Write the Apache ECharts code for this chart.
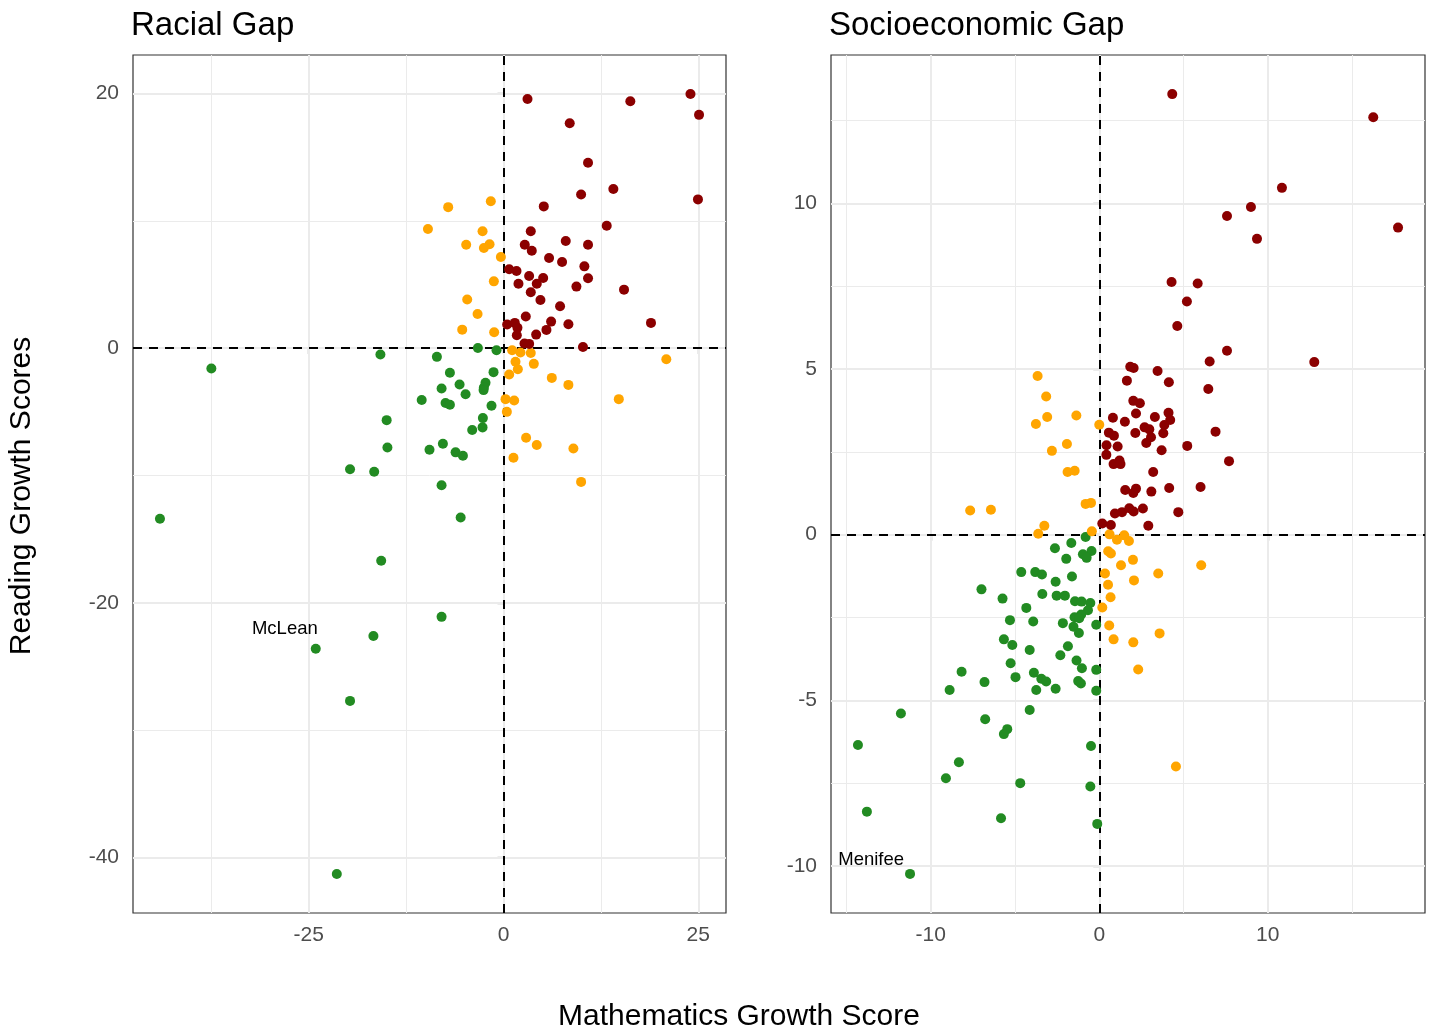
<!DOCTYPE html>
<html>
<head>
<meta charset="utf-8">
<title>Growth gaps</title>
<script src="https://cdn.jsdelivr.net/npm/echarts@6/dist/echarts.min.js"></script>
<style>
  html, body { margin: 0; padding: 0; background: #fff; }
  #chart { width: 1432px; height: 1029px; }
</style>
</head>
<body>
<div id="chart"></div>
<script type="text/javascript">
// ---- data: [math growth, reading growth, label] ----
var racialRed = [[3.08,19.58],[16.28,19.4],[24.0,19.97],[25.1,18.33],[8.5,17.67],[10.85,14.56],[14.1,12.5],[9.96,12.08],[24.96,11.69],[5.17,11.14],[13.25,9.62],[3.5,9.18],[7.99,8.42],[10.85,8.13],[2.73,8.13],[3.63,7.66],[5.85,7.08],[7.52,6.77],[10.38,6.43],[0.73,6.2],[1.67,6.06],[3.29,5.67],[5.09,5.51],[10.85,5.49],[1.92,5.07],[4.27,5.07],[9.36,4.84],[15.47,4.6],[3.5,4.39],[4.74,3.79],[7.26,3.29],[2.86,2.49],[6.11,2.09],[18.93,1.99],[8.33,1.88],[5.51,1.44],[0.47,1.86],[1.45,1.99],[1.79,1.6],[1.71,1.02],[4.19,1.07],[2.69,0.37],[3.29,0.34],[10.2,0.1]];
var racialOrange = [[-1.63,11.55],[-7.1,11.08],[-9.7,9.36],[-2.69,9.18],[-4.79,8.13],[-1.79,8.16],[-2.52,7.87],[-0.34,7.16],[-1.24,5.25],[-4.66,3.82],[-3.33,2.69],[-5.3,1.46],[-1.2,1.25],[1.11,-0.16],[2.18,-0.34],[3.5,-0.37],[1.54,-1.07],[3.89,-1.23],[1.84,-1.65],[0.73,-2.07],[6.2,-2.33],[8.33,-2.88],[20.9,-0.86],[0.26,-4.0],[1.37,-4.1],[14.8,-4.0],[0.43,-5.0],[2.9,-7.03],[4.27,-7.6],[8.97,-7.87],[1.28,-8.6],[9.96,-10.5]];
var racialGreen = [[-15.8,-0.5],[-37.5,-1.6],[-10.5,-4.07],[-15.0,-5.65],[-14.9,-7.8],[-9.5,-7.98],[-19.7,-9.5],[-16.6,-9.7],[-44.1,-13.4],[-15.7,-16.7],[-16.7,-22.6],[-24.1,-23.6,'McLean'],[-19.7,-27.7],[-21.4,-41.3],[-8.55,-0.68],[-3.29,0.02],[-0.9,-0.16],[-6.88,-1.93],[-1.28,-1.88],[-5.64,-2.85],[-2.31,-2.72],[-2.52,-3.08],[-2.56,-3.29],[-7.95,-3.16],[-4.87,-3.61],[-7.44,-4.31],[-6.88,-4.44],[-1.54,-4.52],[-2.65,-5.49],[-2.69,-6.22],[-4.02,-6.43],[-7.78,-7.5],[-6.15,-8.18],[-5.21,-8.45],[-7.95,-10.77],[-5.5,-13.3],[-7.95,-21.1]];

var sesRed = [[4.33,13.3],[16.26,12.6],[10.84,10.47],[9.0,9.89],[7.58,9.62],[17.73,9.27],[9.36,8.93],[4.29,7.63],[5.84,7.58],[5.2,7.04],[4.63,6.3],[12.76,5.21],[7.58,5.55],[6.55,5.23],[1.84,5.07],[2.04,5.03],[3.46,4.94],[1.64,4.65],[4.13,4.6],[6.47,4.4],[2.02,4.04],[2.41,3.97],[2.18,3.66],[4.11,3.68],[4.21,3.46],[3.3,3.55],[0.81,3.53],[1.52,3.41],[3.86,3.31],[2.69,3.24],[2.97,3.18],[0.57,3.08],[0.87,2.99],[2.14,3.07],[3.8,3.06],[3.07,2.94],[2.79,2.77],[0.43,2.7],[1.09,2.66],[3.7,2.55],[5.22,2.68],[6.9,3.11],[0.42,2.41],[0.85,2.13],[1.2,2.24],[1.26,2.13],[7.7,2.22],[3.2,1.89],[1.54,1.35],[2.18,1.39],[2.02,1.26],[3.09,1.3],[4.15,1.41],[6.01,1.44],[0.93,0.64],[1.35,0.68],[1.78,0.8],[2.04,0.7],[2.59,0.79],[4.69,0.68],[0.18,0.34],[0.69,0.29],[2.91,0.27]];
var sesOrange = [[-3.66,4.79],[-3.15,4.17],[-3.09,3.55],[-1.36,3.6],[-3.76,3.34],[0,3.32],[-1.92,2.74],[-2.81,2.53],[-1.88,1.89],[-1.46,1.93],[-7.66,0.73],[-6.43,0.75],[-0.81,0.93],[-0.49,0.96],[-3.26,0.27],[-3.62,0.03],[-0.44,0.1],[0.18,-2.2],[0.59,-2.74],[0.85,-3.16],[0.61,0.01],[1.05,-0.15],[1.48,-0.02],[1.76,-0.19],[0.53,-0.5],[0.69,-0.57],[2.0,-0.76],[1.29,-0.92],[6.05,-0.92],[0.34,-1.17],[3.5,-1.17],[2.06,-1.38],[0.52,-1.51],[0.67,-1.89],[3.58,-2.98],[2.02,-3.25],[2.31,-4.07],[4.55,-7.0]];
var sesGreen = [[-0.81,-0.07],[-1.66,-0.25],[-2.63,-0.41],[-0.46,-0.49],[-0.97,-0.59],[-0.75,-0.7],[-1.96,-0.73],[-4.63,-1.13],[-3.8,-1.13],[-3.4,-1.2],[-1.62,-1.26],[-2.59,-1.42],[-6.99,-1.65],[-5.74,-1.93],[-3.38,-1.79],[-2.53,-1.84],[-2.04,-1.84],[-1.44,-2.01],[-1.05,-2.02],[-0.53,-2.06],[-0.67,-2.28],[-1.07,-2.41],[-1.47,-2.49],[-1.19,-2.52],[-4.33,-2.21],[-5.3,-2.58],[-3.92,-2.62],[-2.16,-2.67],[-0.18,-2.72],[-1.53,-2.78],[-1.21,-2.97],[-5.66,-3.16],[-5.16,-3.33],[-4.13,-3.48],[-1.86,-3.37],[-2.31,-3.64],[-5.26,-3.88],[-1.35,-3.8],[-1.03,-4.03],[-0.18,-4.08],[-8.17,-4.14],[-4.97,-4.3],[-3.88,-4.17],[-3.44,-4.35],[-3.15,-4.43],[-6.81,-4.45],[-1.25,-4.42],[-1.09,-4.49],[-2.59,-4.65],[-3.74,-4.69],[-0.18,-4.71],[-4.13,-5.29],[-6.77,-5.57],[-8.88,-4.69],[-11.77,-5.4],[-5.46,-5.87],[-5.66,-6.02],[-14.32,-6.35],[-0.49,-6.38],[-8.33,-6.87],[-9.1,-7.35],[-4.69,-7.5],[-0.53,-7.6],[-13.79,-8.36],[-5.83,-8.56],[-0.12,-8.73],[-11.23,-10.24,'Menifee']];

// axis breaks
var racialXTicks = [-25, 0, 25];
var racialXMinor = [-37.5, -12.5, 12.5];
var racialYTicks = [-40, -20, 0, 20];
var racialYMinor = [-30, -10, 10];
var sesXTicks = [-10, 0, 10];
var sesXMinor = [-15, -5, 5, 15];
var sesYTicks = [-10, -5, 0, 5, 10];
var sesYMinor = [-7.5, -2.5, 2.5, 7.5, 12.5];

var FONT = '"Liberation Sans", Arial, sans-serif';
var RED = '#8B0000', ORANGE = '#FFA500', GREEN = '#228B22';

// where the text labels sit next to their point (px)
var labelPlace = { McLean: [7, -15], Menifee: [-1, -9] };

function toItems(arr) {
  return arr.map(function (d) {
    if (!d[2]) return [d[0], d[1]];
    return {
      value: [d[0], d[1]],
      label: {
        show: true, formatter: d[2], position: labelPlace[d[2]],
        align: 'right', verticalAlign: 'middle',
        color: '#000', fontSize: 18.5, fontFamily: FONT
      }
    };
  });
}

function xAxisOf(g, min, max, ticks) {
  return {
    type: 'value', gridIndex: g, min: min, max: max,
    axisLine: { show: false },
    axisTick: { show: true, length: 6, customValues: ticks, lineStyle: { color: '#333', width: 1.2 } },
    axisLabel: { customValues: ticks, color: '#4d4d4d', fontSize: 21, fontFamily: FONT, margin: 12 },
    splitLine: { show: false }
  };
}
function yAxisOf(g, min, max, ticks) {
  return {
    type: 'value', gridIndex: g, min: min, max: max,
    axisLine: { show: false },
    axisTick: { show: true, length: 6, customValues: ticks, lineStyle: { color: '#333', width: 1.2 } },
    axisLabel: { customValues: ticks, color: '#4d4d4d', fontSize: 21, fontFamily: FONT, margin: 14 },
    splitLine: { show: false }
  };
}

// background grid + dashed zero lines, as markLines on an empty series
function gridSeries(g, xMaj, xMin, yMaj, yMin) {
  var data = [];
  xMin.forEach(function (v) { data.push({ xAxis: v, lineStyle: { color: '#ebebeb', width: 1, type: 'solid' } }); });
  yMin.forEach(function (v) { data.push({ yAxis: v, lineStyle: { color: '#ebebeb', width: 1, type: 'solid' } }); });
  xMaj.forEach(function (v) { data.push({ xAxis: v, lineStyle: { color: '#ebebeb', width: 2, type: 'solid' } }); });
  yMaj.forEach(function (v) { data.push({ yAxis: v, lineStyle: { color: '#ebebeb', width: 2, type: 'solid' } }); });
  data.push({ xAxis: 0, lineStyle: { color: '#000', width: 2, type: [9, 7] } });
  data.push({ yAxis: 0, lineStyle: { color: '#000', width: 2, type: [9, 7] } });
  return {
    type: 'scatter', xAxisIndex: g, yAxisIndex: g, data: [], z: 1, silent: true,
    markLine: { silent: true, symbol: ['none', 'none'], label: { show: false }, animation: false, data: data }
  };
}

// points go on their own layer so the grid lines stay underneath
function pts(g, arr, color) {
  return {
    type: 'scatter', xAxisIndex: g, yAxisIndex: g, zlevel: 1, z: 3,
    symbol: 'circle', symbolSize: 10,
    itemStyle: { color: color, opacity: 1 },
    data: toItems(arr)
  };
}

var myChart = echarts.init(document.getElementById('chart'), null, { renderer: 'canvas' });

option = {
  animation: false,
  backgroundColor: '#fff',
  title: [
    { text: 'Racial Gap', left: 131, top: 9, padding: 0,
      textStyle: { fontSize: 33, fontWeight: 'normal', color: '#000', fontFamily: FONT } },
    { text: 'Socioeconomic Gap', left: 829, top: 9, padding: 0,
      textStyle: { fontSize: 33, fontWeight: 'normal', color: '#000', fontFamily: FONT } }
  ],
  grid: [
    { left: 133, top: 55, width: 593, height: 858, show: true, backgroundColor: '#fff',
      borderColor: '#333', borderWidth: 1.2, containLabel: false, outerBoundsMode: 'none' },
    { left: 831, top: 55, width: 594, height: 858, show: true, backgroundColor: '#fff',
      borderColor: '#333', borderWidth: 1.2, containLabel: false, outerBoundsMode: 'none' }
  ],
  xAxis: [
    xAxisOf(0, -47.56, 28.56, racialXTicks),
    xAxisOf(1, -15.92, 19.33, sesXTicks)
  ],
  yAxis: [
    yAxisOf(0, -44.36, 23.03, racialYTicks),
    yAxisOf(1, -11.42, 14.48, sesYTicks)
  ],
  graphic: [
    { type: 'text', x: 739, y: 1017,
      style: { text: 'Mathematics Growth Score', font: '30px ' + FONT, fill: '#000', align: 'center', verticalAlign: 'middle' } },
    { type: 'text', x: 22, y: 496, rotation: Math.PI / 2,
      style: { text: 'Reading Growth Scores', font: '30px ' + FONT, fill: '#000', align: 'center', verticalAlign: 'middle' } }
  ],
  series: [
    gridSeries(0, racialXTicks, racialXMinor, racialYTicks, racialYMinor),
    gridSeries(1, sesXTicks, sesXMinor, sesYTicks, sesYMinor),
    pts(0, racialGreen, GREEN),
    pts(0, racialOrange, ORANGE),
    pts(0, racialRed, RED),
    pts(1, sesGreen, GREEN),
    pts(1, sesOrange, ORANGE),
    pts(1, sesRed, RED)
  ]
};

myChart.setOption(option);
</script>
</body>
</html>
